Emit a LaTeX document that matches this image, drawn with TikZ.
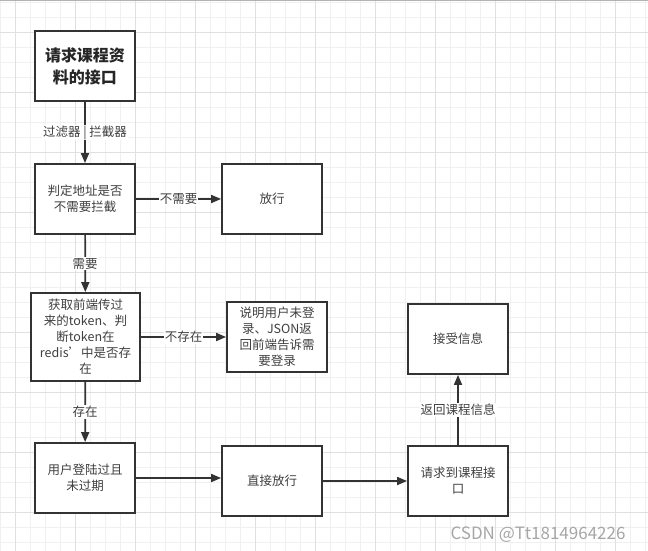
\documentclass[tikz,border=0pt]{standalone}
\usepackage{fontspec}
\setmainfont{Noto Sans CJK SC}
\usetikzlibrary{arrows.meta}

\tikzset{
  stepbox/.style={draw=black!80, line width=1.8pt, fill=white, minimum width=100pt,
    minimum height=70pt, inner sep=2pt, align=center, text=black!75,
    font=\fontsize{12.5}{16}\selectfont},
  titlebox/.style={stepbox, text=black!85, font=\fontsize{16}{22}\selectfont\bfseries},
  flow/.style={draw=black!80, line width=1.7pt, -{Triangle[length=10pt, width=8pt]}},
  lbl/.style={fill=white, text=black!75, inner sep=1pt, font=\fontsize{12.5}{15}\selectfont},
  gridminor/.style={draw=black!6, line width=0.8pt},
  gridmajor/.style={draw=black!12, line width=0.8pt},
}

\begin{document}
\begin{tikzpicture}[x=1pt, y=-1pt]
  \useasboundingbox (0, 0) rectangle (648, 551);
  % background grid
  \foreach \x in {0.7, 15.7, ..., 648} \draw [gridminor] (\x, 0) -- (\x, 551);
  \foreach \y in {2, 17, ..., 551} \draw [gridminor] (0, \y) -- (648, \y);
  \foreach \x in {15.7, 75.7, ..., 648} \draw [gridmajor] (\x, 0) -- (\x, 551);
  \foreach \y in {32, 92, ..., 551} \draw [gridmajor] (0, \y) -- (648, \y);
  \draw [black!30, line width=1.2pt] (0, 0.8) -- (648, 0.8);

  % boxes
  \node [titlebox] (request) at (85, 66) {请求课程资\\料的接口};
  \node [stepbox] (check) at (85, 199) {判定地址是否\\不需要拦截};
  \node [stepbox] (pass) at (272, 199) {放行};
  \node [stepbox, minimum width=109pt, minimum height=88pt] (token) at (85.5, 337)
    {获取前端传过\\来的token、判\\断token在\\redis\symbol{39}中是否存\\在};
  \node [stepbox] (nologin) at (277, 337) {说明用户未登\\录、JSON返\\回前端告诉需\\要登录};
  \node [stepbox] (valid) at (85, 478) {用户登陆过且\\未过期};
  \node [stepbox] (direct) at (272, 481) {直接放行};
  \node [stepbox] (receive) at (458, 339) {接受信息};
  \node [stepbox] (course) at (458, 481) {请求到课程接\\口};

  % connectors
  \draw [flow] (request) -- (check) node [lbl, pos=0.5] {过滤器 | 拦截器};
  \draw [flow] (check) -- (pass) node [lbl, pos=0.5] {不需要};
  \draw [flow] (check) -- (token) node [lbl, pos=0.5] {需要};
  \draw [flow] (token) -- (nologin) node [lbl, pos=0.5] {不存在};
  \draw [flow] (token) -- (valid) node [lbl, pos=0.5] {存在};
  \draw [flow] (valid.east) -- (valid.east -| direct.west);
  \draw [flow] (direct) -- (course);
  \draw [flow] (course) -- (receive) node [lbl, pos=0.5] {返回课程信息};

  \node [text=black!35, font=\fontsize{17}{20}\selectfont] (mark) at (538, 535) {CSDN @Tt1814964226};
\end{tikzpicture}
\end{document}
